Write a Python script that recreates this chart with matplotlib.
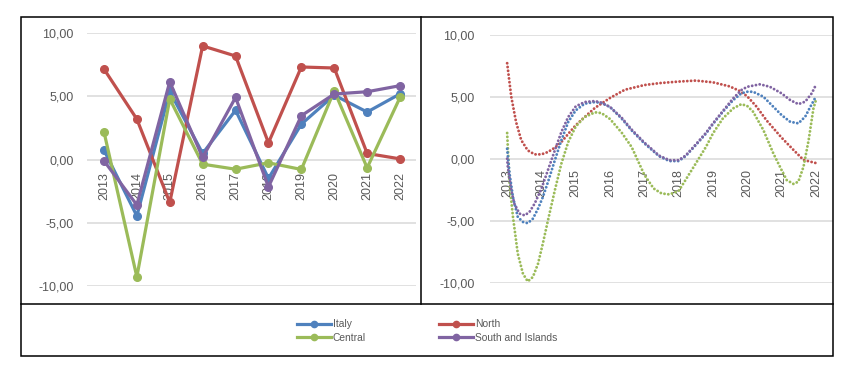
import matplotlib
matplotlib.use('Agg')
import matplotlib.pyplot as plt
from matplotlib.lines import Line2D
from matplotlib.patches import Rectangle

plt.rcParams['font.family'] = ['Liberation Sans', 'DejaVu Sans']

# ---- data (left chart) ----
years = ['2013', '2014', '2015', '2016', '2017', '2018', '2019', '2020', '2021', '2022']
italy = [0.74, -4.47, 5.4, 0.48, 3.9, -1.5, 2.8, 5.1, 3.76, 5.2]
north = [7.17, 3.2, -3.4, 9.0, 8.2, 1.32, 7.33, 7.25, 0.48, 0.05]
central = [2.2, -9.3, 4.8, -0.37, -0.77, -0.26, -0.79, 5.45, -0.66, 4.92]
south = [-0.1, -3.6, 6.16, 0.16, 4.92, -2.17, 3.47, 5.19, 5.37, 5.85]

ytick_vals = [-10, -5, 0, 5, 10]
ytick_labels = ['-10,00', '-5,00', '0,00', '5,00', '10,00']

# ---- trend curves (right chart) ----
north_tx = [2013.0, 2013.12, 2013.26, 2013.41, 2013.6, 2013.8, 2014.0, 2014.19, 2014.39, 2014.58,
            2014.78, 2015.0, 2015.26, 2015.56, 2016.0, 2016.43, 2017.0, 2017.46, 2018.0, 2018.5,
            2019.0, 2019.49, 2019.78, 2020.0, 2020.27, 2020.56, 2021.0, 2021.35, 2021.64, 2022.0]
north_t = [7.7, 5.0, 2.96, 1.5, 0.67, 0.35, 0.35, 0.54, 0.89, 1.34,
           2.0, 2.7, 3.36, 4.1, 4.9, 5.56, 5.94, 6.1, 6.22, 6.3,
           6.16, 5.83, 5.46, 5.03, 4.2, 3.1, 1.7, 0.7, -0.1, -0.35]

central_tx = [2013.0, 2013.07, 2013.17, 2013.31, 2013.46, 2013.6, 2013.75, 2013.9, 2014.04, 2014.19,
              2014.39, 2014.58, 2014.78, 2015.0, 2015.26, 2015.56, 2015.75, 2016.0, 2016.34, 2016.63,
              2017.0, 2017.27, 2017.5, 2017.73, 2018.0, 2018.2, 2018.5, 2018.8, 2019.0, 2019.29,
              2019.59, 2019.83, 2020.0, 2020.17, 2020.47, 2020.76, 2021.0, 2021.15, 2021.35, 2021.49,
              2021.64, 2021.79, 2021.93, 2022.0]
central_t = [2.07, -2.0, -4.7, -7.66, -9.27, -9.9, -9.54, -8.47, -6.85, -4.97,
             -2.55, -0.4, 1.34, 2.6, 3.36, 3.74, 3.68, 3.2, 2.1, 0.94,
             -1.3, -2.4, -2.8, -2.88, -2.6, -1.72, -0.38, 0.97, 2.04, 3.25,
             4.06, 4.4, 4.25, 3.79, 2.31, 0.43, -0.91, -1.72, -2.04, -1.85,
             -0.65, 1.5, 4.06, 4.7]

italy_tx = [2013.0, 2013.07, 2013.17, 2013.31, 2013.46, 2013.6, 2013.75, 2013.9, 2014.04, 2014.19,
            2014.39, 2014.58, 2014.78, 2015.0, 2015.26, 2015.56, 2015.75, 2016.0, 2016.34, 2016.63,
            2017.0, 2017.43, 2017.73, 2018.0, 2018.2, 2018.5, 2018.8, 2019.0, 2019.29, 2019.59,
            2019.83, 2020.0, 2020.17, 2020.47, 2020.76, 2021.0, 2021.25, 2021.49, 2021.69, 2021.84,
            2022.0]
italy_t = [0.8, -1.2, -3.1, -4.7, -5.1, -5.2, -4.84, -4.03, -3.1, -1.88,
           -0.13, 1.48, 2.96, 3.9, 4.44, 4.57, 4.49, 4.17, 3.23, 2.28,
           1.24, 0.2, -0.19, -0.19, 0.2, 1.1, 2.04, 2.8, 3.79, 4.73,
           5.27, 5.4, 5.4, 5.0, 4.19, 3.52, 2.98, 2.85, 3.39, 4.19,
           5.0]

south_tx = [2013.0, 2013.02, 2013.12, 2013.21, 2013.36, 2013.51, 2013.65, 2013.8, 2014.0, 2014.19,
            2014.39, 2014.58, 2014.78, 2015.0, 2015.26, 2015.56, 2015.75, 2016.0, 2016.34, 2016.63,
            2017.0, 2017.43, 2017.73, 2018.0, 2018.2, 2018.5, 2018.8, 2019.0, 2019.29, 2019.59,
            2019.83, 2020.0, 2020.37, 2020.66, 2021.0, 2021.25, 2021.49, 2021.69, 2021.88, 2022.0]
south_t = [0.0, -0.67, -2.55, -3.63, -4.43, -4.57, -4.3, -3.63, -2.42, -0.91,
           0.67, 2.15, 3.36, 4.22, 4.57, 4.65, 4.52, 4.17, 3.3, 2.35,
           1.3, 0.25, -0.12, -0.12, 0.25, 1.15, 2.1, 2.85, 3.85, 4.87,
           5.54, 5.8, 6.0, 5.8, 5.27, 4.73, 4.4, 4.6, 5.27, 5.94]

c_italy = '#4F81BD'
c_north = '#C0504D'
c_central = '#9BBB59'
c_south = '#8064A2'
grey_txt = '#595959'
grid_c = '#D9D9D9'

W, H = 853, 375
fig = plt.figure(figsize=(W / 100, H / 100), dpi=100)

def px_axes(x0, y0, x1, y1):
    return fig.add_axes([x0 / W, 1 - y1 / H, (x1 - x0) / W, (y1 - y0) / H])

def style_axes(ax, xpad, ypad):
    for s in ['top', 'right', 'left']:
        ax.spines[s].set_visible(False)
    # category labels sit just under the zero line, as in Excel
    ax.spines['bottom'].set_position(('data', 0))
    ax.spines['bottom'].set_visible(False)
    ax.set_ylim(-10, 10)
    ax.set_xlim(-0.5, 9.5)
    ax.set_yticks(ytick_vals)
    ax.set_yticklabels(ytick_labels)
    ax.set_xticks(range(len(years)))
    ax.set_xticklabels(years)
    ax.tick_params(axis='x', length=0, pad=xpad, labelsize=9, colors=grey_txt, labelrotation=90)
    ax.tick_params(axis='y', length=0, pad=ypad, labelsize=9, colors=grey_txt)
    ax.grid(axis='y', color=grid_c, linewidth=1.1)
    ax.set_axisbelow(True)
    ax.patch.set_alpha(0)

# left chart
ax1 = px_axes(87.5, 33.3, 416.5, 285.7)
style_axes(ax1, 9, 10)
x = list(range(len(years)))
for vals, c, lab in [(italy, c_italy, 'Italy'), (north, c_north, 'North'),
                     (central, c_central, 'Central'), (south, c_south, 'South and Islands')]:
    ax1.plot(x, vals, color=c, lw=2.3, marker='o', ms=5.5, label=lab, clip_on=False)

# right chart
ax2 = px_axes(490, 34.7, 833, 282.7)
style_axes(ax2, 7.5, 11)
for tx, tv, c in [(north_tx, north_t, c_north), (central_tx, central_t, c_central),
                  (italy_tx, italy_t, c_italy), (south_tx, south_t, c_south)]:
    ax2.plot([v - 2013 for v in tx], tv, color=c, lw=2.1,
             linestyle=(0, (0.01, 1.3)), dash_capstyle='round', clip_on=False)

# frame lines
fig.add_artist(Rectangle((21 / W, 1 - 356 / H), (833 - 21) / W, (356 - 17) / H,
                         transform=fig.transFigure, fill=False, ec='black', lw=1.1))
fig.add_artist(Line2D([421 / W, 421 / W], [1 - 17 / H, 1 - 304 / H],
                      transform=fig.transFigure, color='black', lw=1.1))
fig.add_artist(Line2D([21 / W, 833 / W], [1 - 304 / H, 1 - 304 / H],
                      transform=fig.transFigure, color='black', lw=1.1))

# legend
handles = [Line2D([], [], color=c, lw=2.3, marker='o', ms=4.5)
           for c in [c_italy, c_central, c_north, c_south]]
labels = ['Italy', 'Central', 'North', 'South and Islands']
fig.legend(handles, labels, ncol=2, loc='center', bbox_to_anchor=(427 / W, 1 - 331 / H),
           frameon=False, fontsize=7.4, handlelength=3.3, handletextpad=0.2,
           columnspacing=7.1, labelspacing=0.3, numpoints=1, labelcolor=grey_txt)

fig.savefig('out.png', dpi=100)
